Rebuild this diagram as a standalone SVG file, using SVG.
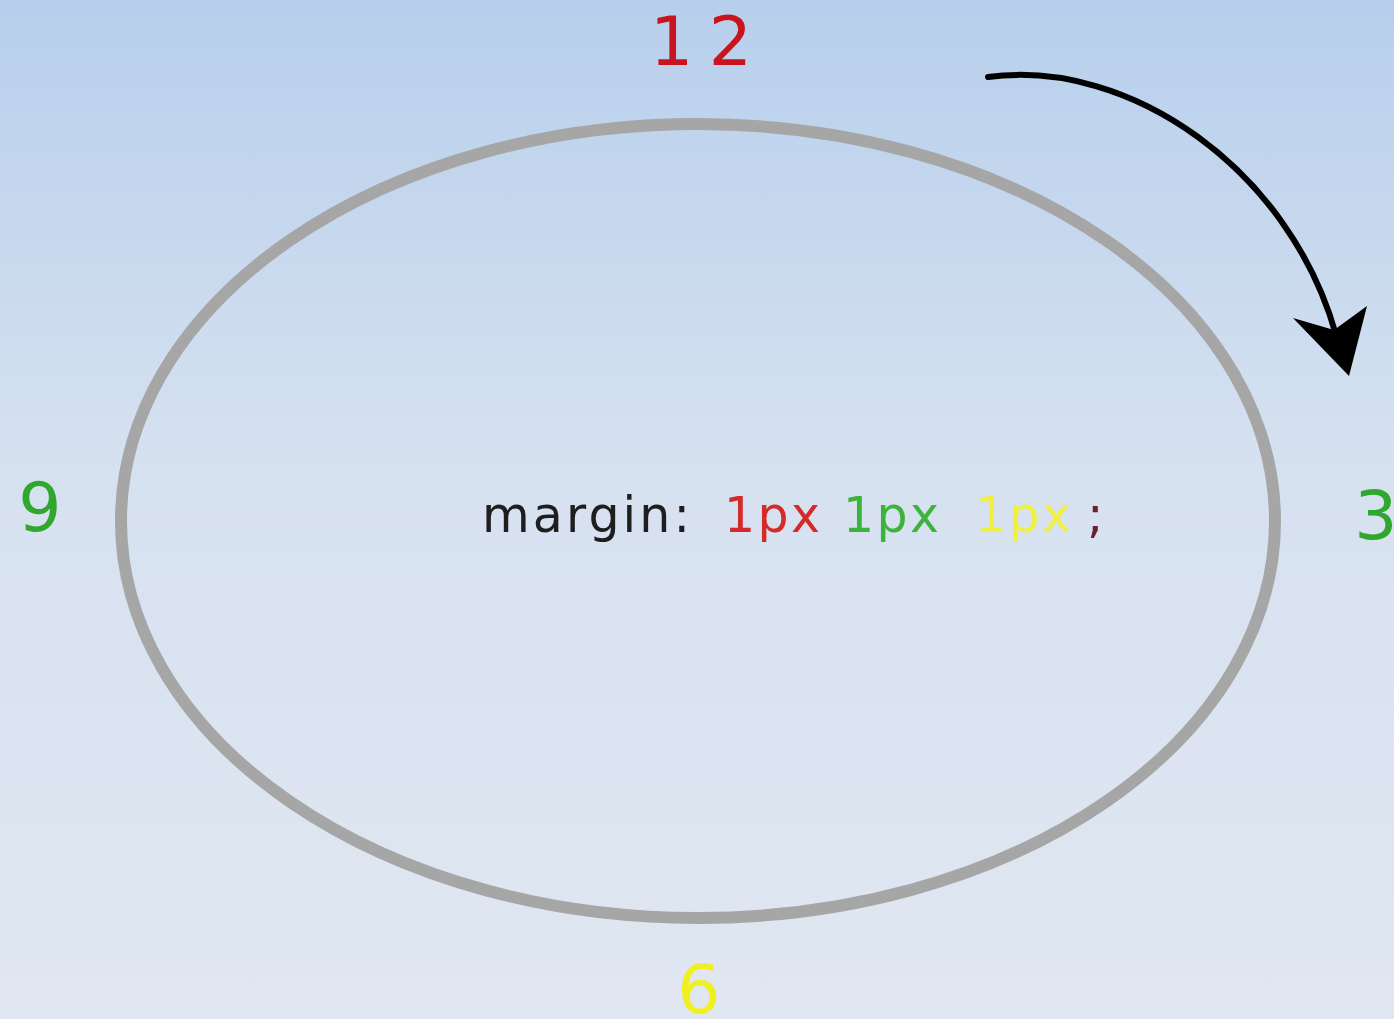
<svg xmlns="http://www.w3.org/2000/svg" width="1394" height="1019" viewBox="0 0 1394 1019">
<defs>
<linearGradient id="bg" x1="0" y1="0" x2="0" y2="1">
<stop offset="0" stop-color="#b7cfec"/>
<stop offset="0.45" stop-color="#d6e1f0"/>
<stop offset="1" stop-color="#e0e7f1"/>
</linearGradient>
<style>
.num{font-family:"DejaVu Sans","Noto Sans",sans-serif;font-size:68px;text-anchor:middle}
.lbl{font-family:"DejaVu Sans","Noto Sans",sans-serif;font-size:49px}
</style>
</defs>
<rect width="1394" height="1019" fill="url(#bg)"/>
<g id="ring">
<ellipse cx="698" cy="521" rx="577" ry="397" fill="none" stroke="#a6a6a6" stroke-width="12"/>
</g>
<g id="labels">
<text class="num" x="701" y="65" fill="#c8141e" textLength="102">12</text>
<text class="num" x="40" y="531" fill="#30a830">9</text>
<text class="num" x="1376" y="539" fill="#30a830">3</text>
<text class="num" x="699" y="1013" fill="#f0f020">6</text>
</g>
<g id="code">
<text class="lbl" y="532"><tspan x="482" fill="#1e1e1e" textLength="208">margin:</tspan><tspan x="724" fill="#d42a2a" textLength="96">1px</tspan><tspan x="843" fill="#3cb43c" textLength="96">1px</tspan><tspan x="975" fill="#f0f040" textLength="96">1px</tspan><tspan x="1087" fill="#6a2030">;</tspan></text>
</g>
<g id="connectors">
<path d="M988,77 C1130,58 1290,170 1336,335" fill="none" stroke="#000" stroke-width="6" stroke-linecap="round"/>
<polygon points="1293,318 1334,330 1367,306 1349,376" fill="#000"/>
</g>
</svg>
